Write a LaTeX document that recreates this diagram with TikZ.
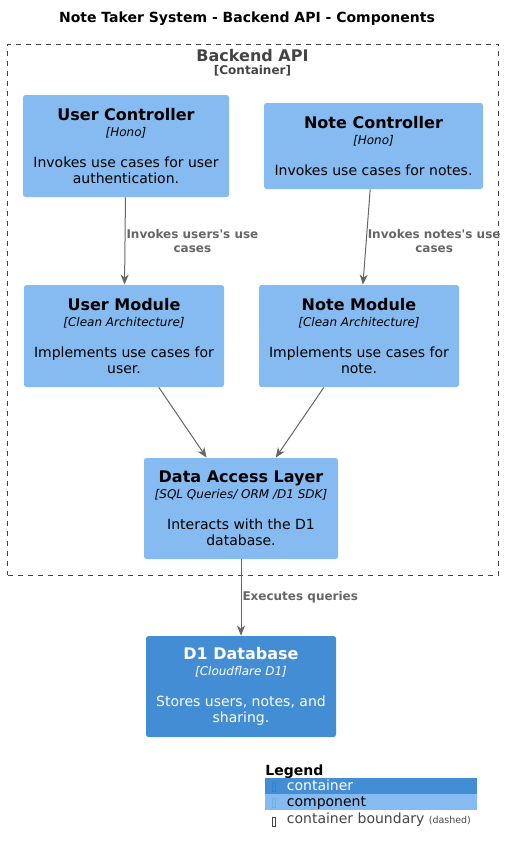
\documentclass[tikz,border=0pt]{standalone}
\usepackage{fontspec}
\setmainfont{DejaVu Sans}
\usetikzlibrary{arrows.meta}

\definecolor{compfill}{HTML}{85BBF0}
\definecolor{contfill}{HTML}{438DD5}
\definecolor{relgray}{HTML}{666666}
\definecolor{bndgray}{HTML}{444444}

\newcommand{\ctitle}[1]{{\fontsize{16}{16}\selectfont\bfseries #1}}
\newcommand{\ctech}[1]{{\fontsize{12}{16}\selectfont\itshape #1}}

\tikzset{every picture/.style={line width=0.75pt},
  comp/.style={fill=compfill, rounded corners=2.5pt, inner sep=0pt, align=center, font=\fontsize{14}{16}\selectfont},
  cont/.style={comp, fill=contfill, text=white},
  rel/.style={draw=relgray, line width=1pt, -{Stealth[length=10pt,width=8pt,inset=3pt]}},
  rellabel/.style={text=relgray, font=\fontsize{12}{14}\selectfont\bfseries, align=center, anchor=west, inner sep=1pt},
  boundary/.style={draw=bndgray, line width=1pt, dash pattern=on 5pt off 5pt}}

\begin{document}
\begin{tikzpicture}[x=1pt,y=1pt,yscale=-1]
\useasboundingbox (0,0) rectangle (507,852);

% Title
\node[anchor=base, font=\fontsize{14}{16}\selectfont\bfseries] (title) at (247,22.7) {Note Taker System - Backend API - Components};

%Shape: container boundary
\node[boundary, minimum width=491pt, minimum height=531pt, inner sep=0pt] (bnd) at (253,309.5) {};
\node[anchor=base, text=bndgray, font=\fontsize{16}{16}\selectfont\bfseries] (bndname) at (252.5,61.5) {Backend API};
\node[anchor=base, text=bndgray, font=\fontsize{12}{14}\selectfont\bfseries] (bndtype) at (252.5,74.5) {[Container]};

% Components
\node[comp, minimum width=206pt, minimum height=102pt] (uc) at (126,146) {\ctitle{User Controller}\\\ctech{[Hono]}\\[15pt]Invokes use cases for user\\authentication.};
\node[comp, minimum width=219pt, minimum height=86pt] (nc) at (373.5,146) {\ctitle{Note Controller}\\\ctech{[Hono]}\\[15pt]Invokes use cases for notes.};
\node[comp, minimum width=200pt, minimum height=102pt] (um) at (124,336) {\ctitle{User Module}\\\ctech{[Clean Architecture]}\\[15pt]Implements use cases for\\user.};
\node[comp, minimum width=200pt, minimum height=102pt] (nm) at (359,336) {\ctitle{Note Module}\\\ctech{[Clean Architecture]}\\[15pt]Implements use cases for\\note.};
\node[comp, minimum width=194pt, minimum height=101pt] (dal) at (241,508.5) {\ctitle{Data Access Layer}\\\ctech{[SQL Queries/ ORM /D1 SDK]}\\[15pt]Interacts with the D1\\database.};

% Container
\node[cont, minimum width=190pt, minimum height=101pt] (db) at (241,686.5) {\ctitle{D1 Database}\\\ctech{[Cloudflare D1]}\\[15pt]Stores users, notes, and\\sharing.};

% Relations
\draw[rel] (uc) -- node[rellabel] (ucum) {Invokes users\textquotesingle s use\\cases} (um);
\draw[rel] (nc) -- node[rellabel, pos=0.54] (ncnm) {Invokes notes\textquotesingle s use\\cases} (nm);
\draw[rel] (um) -- (dal);
\draw[rel] (nm) -- (dal);
\draw[rel] (dal) -- node[rellabel] (daldb) {Executes queries} (db);

% Legend
\node[anchor=base west, inner sep=0pt, font=\fontsize{14}{16}\selectfont\bfseries] (leg) at (265,775) {Legend};
\fill[contfill] (265,778.3) rectangle (477,794);
\fill[compfill] (265,794) rectangle (477,810.3);
\draw[draw={rgb,255:red,60;green,126;blue,196}, line width=0.6pt] (271.8,781.8) rectangle (275.6,791.4);
\draw[draw={rgb,255:red,120;green,172;blue,226}, line width=0.6pt] (271.8,797.8) rectangle (275.6,807.4);
\draw[draw=bndgray, line width=0.6pt] (271.8,816.8) rectangle (275.6,826.2);
\node[anchor=base west, inner sep=0pt, text=white, font=\fontsize{14}{16}\selectfont] (legcont) at (286.5,790.5) {container};
\node[anchor=base west, inner sep=0pt, font=\fontsize{14}{16}\selectfont] (legcomp) at (286.5,806.5) {component};
\node[anchor=base west, inner sep=0pt, text=bndgray, font=\fontsize{14}{16}\selectfont] (legbnd) at (286.5,823.5) {container boundary {\fontsize{9.5}{10}\selectfont (dashed)}};

\end{tikzpicture}
\end{document}
